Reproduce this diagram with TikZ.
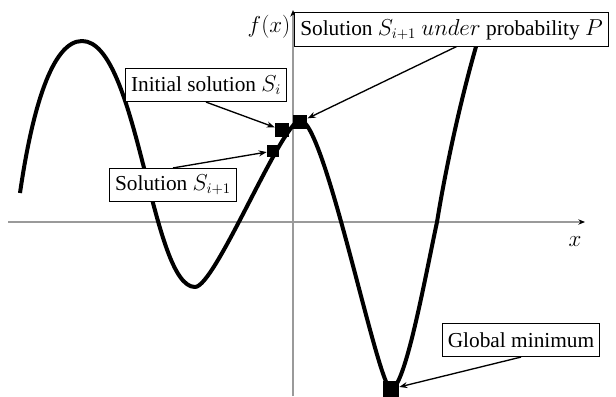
\documentclass[tikz,border=0pt]{standalone}
\usepackage{fontspec}
\setmainfont{Liberation Serif}
\usetikzlibrary{arrows.meta}
\definecolor{axisgray}{HTML}{9A9A9A}

\tikzset{
  label box/.style={draw,fill=white,line width=0.6pt,inner xsep=4pt,minimum height=25pt},
  marker/.style={fill=black,inner sep=0pt,minimum size=#1},
  pointer/.style={line width=1pt,-{Stealth[length=6pt,width=4.5pt]}}
}

\begin{document}
\begin{tikzpicture}[x=0.75pt,y=-0.75pt,font=\fontsize{16}{19}\selectfont]
  \useasboundingbox (0,0) rectangle (616,396);
  % axes
  \coordinate (xl) at (8,222);
  \coordinate (xr) at (585,222);
  \coordinate (yb) at (293,396);
  \coordinate (yt) at (293,10);
  \draw[axisgray,line width=0.8pt,-{Stealth[black,length=5pt,width=4pt]}] (xl) -- (xr);
  \draw[axisgray,line width=0.8pt,-{Stealth[black,length=5pt,width=4pt]}] (yb) -- (yt);
  \node (xlab) at (575,242) {$x$};
  \node[anchor=east,inner sep=1pt] (ylab) at (292,27) {$f(x)$};
  % objective function
  \draw[line width=3pt,line join=round]
    (20,193) .. controls (32,110) and (52,41) .. (82,41)
             .. controls (138,41) and (151,287) .. (195,287)
             .. controls (215,287) and (280,125) .. (300,120)
             .. controls (325,120) and (378,389) .. (391,389)
             .. controls (405,389) and (425,278) .. (437,222)
             .. controls (447,160) and (465,80) .. (484,20);
  % labels
  \node[label box] (init) at (206,85) {Initial solution $S_i$};
  \node[label box] (next) at (173,185) {Solution $S_{i+1}$};
  \node[label box,inner xsep=2pt,minimum width=236pt] (prob) at (451.5,29.5) {Solution $S_{i+1}$ $under$ probability $P$};
  \node[label box] (glob) at (521,340) {Global minimum};
  % solutions
  \node[marker=10.5pt] (si) at (282,130) {};
  \node[marker=9pt] (sn) at (273,151) {};
  \node[marker=11pt] (sp) at (300,122) {};
  \node[marker=12pt] (gm) at (391,389) {};
  % pointers
  \draw[pointer] (init.south) -- (si);
  \draw[pointer] (next.north) -- (sn);
  \draw[pointer] (prob.south) ++(5,0) -- (sp);
  \draw[pointer] (glob.south) -- (gm);
\end{tikzpicture}
\end{document}
